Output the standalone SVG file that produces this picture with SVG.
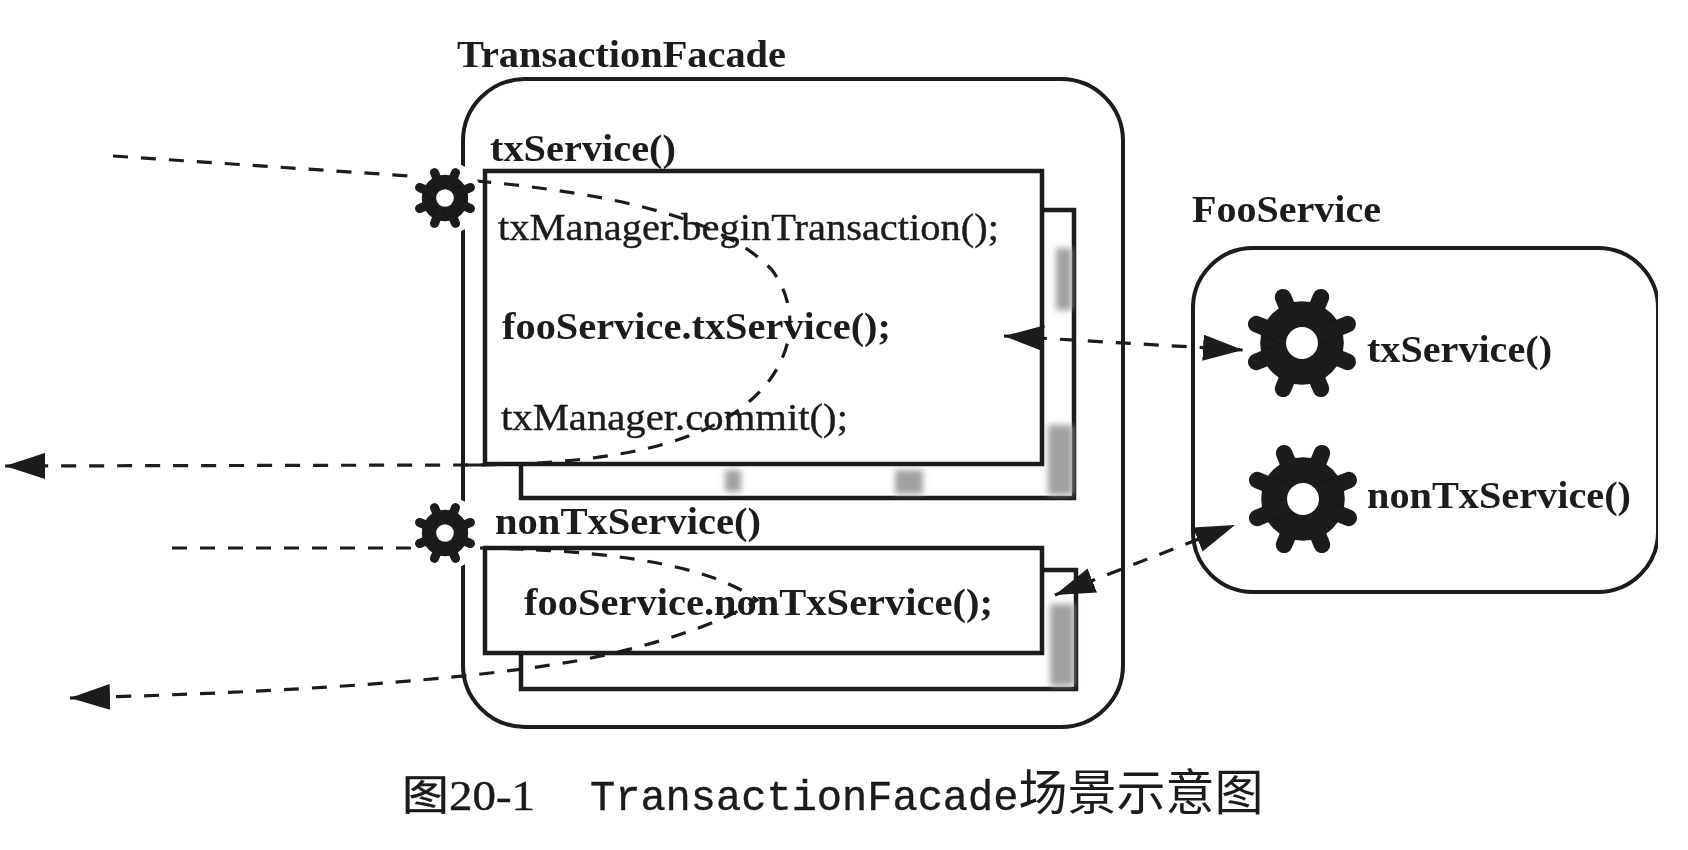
<svg xmlns="http://www.w3.org/2000/svg" xmlns:xlink="http://www.w3.org/1999/xlink" width="1688" height="850" viewBox="0 0 1688 850">
<style>
.box{fill:#fff;stroke:#1a1a1a;stroke-width:4.5}
.round{fill:none;stroke:#1a1a1a;stroke-width:4}
.flow{fill:none;stroke:#1a1a1a;stroke-width:3.2;stroke-dasharray:15 13}
.patch{fill:#a0a0a0;filter:url(#soft)}
text{font-family:"Liberation Serif","Noto Sans CJK SC",serif;fill:#1a1a1a}
.b{font-weight:bold;font-size:37px}
.r{font-size:37px;stroke:#1a1a1a;stroke-width:.4}
.cap{font-size:42px;stroke:#1a1a1a;stroke-width:.4}
.mono{font-family:"Liberation Mono",monospace;font-size:42px;stroke:#1a1a1a;stroke-width:.4}
.cjk{font-family:"Noto Sans CJK SC",sans-serif;font-size:49px}
.teeth{stroke:#1a1a1a;stroke-width:15;stroke-linecap:round}
</style>
<defs>
<filter id="soft" x="-30%" y="-30%" width="160%" height="160%"><feGaussianBlur stdDeviation="3"/></filter>
<filter id="scan" x="0" y="0" width="100%" height="100%"><feGaussianBlur stdDeviation="0.7"/></filter>
<marker id="head" viewBox="0 0 40 26" refX="40" refY="13" markerWidth="40" markerHeight="26" markerUnits="userSpaceOnUse" orient="auto-start-reverse"><path d="M0 0L40 13L0 26Z" fill="#1a1a1a"/></marker>
<g id="gear">
<circle r="38" fill="#1a1a1a"/>
<g class="teeth">
<line x1="0" y1="0" x2="17.2" y2="-41.6"/><line x1="0" y1="0" x2="41.6" y2="-17.2"/><line x1="0" y1="0" x2="41.6" y2="17.2"/><line x1="0" y1="0" x2="17.2" y2="41.6"/>
<line x1="0" y1="0" x2="-17.2" y2="41.6"/><line x1="0" y1="0" x2="-41.6" y2="17.2"/><line x1="0" y1="0" x2="-41.6" y2="-17.2"/><line x1="0" y1="0" x2="-17.2" y2="-41.6"/>
</g>
<circle r="14.5" fill="#fff"/>
</g>
</defs>
<rect width="1688" height="850" fill="#fff"/>
<g filter="url(#scan)">
<g id="transaction-facade">
<rect class="round" x="463" y="79" width="660" height="648" rx="62"/>
<text class="b" x="457" y="67" textLength="329" lengthAdjust="spacingAndGlyphs">TransactionFacade</text>
</g>
<g id="tx-service-box">
<rect class="box" x="521" y="210" width="553" height="288"/>
<path class="patch" d="M1056 248h16v62h-16zM1048 425h25v70h-25z"/>
<path class="patch" d="M725 470h16v22h-16zM895 470h28v24h-28z"/>
<rect class="box" x="485" y="171" width="557" height="293"/>
<line x1="463" y1="465" x2="485" y2="465" stroke="#1a1a1a" stroke-width="3"/>
<text class="b" x="490" y="161" textLength="186" lengthAdjust="spacingAndGlyphs">txService()</text>
<text class="r" x="498" y="240" textLength="501" lengthAdjust="spacingAndGlyphs">txManager.beginTransaction();</text>
<text class="b" x="502" y="339" textLength="389" lengthAdjust="spacingAndGlyphs">fooService.txService();</text>
<text class="r" x="501" y="430" textLength="347" lengthAdjust="spacingAndGlyphs">txManager.commit();</text>
</g>
<g id="non-tx-service-box">
<rect class="box" x="521" y="570" width="555" height="119"/>
<path class="patch" d="M1050 604h24v82h-24z"/>
<rect class="box" x="485" y="548" width="557" height="105"/>
<text class="b" x="495" y="534" textLength="266" lengthAdjust="spacingAndGlyphs">nonTxService()</text>
<text class="b" x="524" y="615" textLength="469" lengthAdjust="spacingAndGlyphs">fooService.nonTxService();</text>
</g>
<g id="foo-service">
<rect class="round" x="1193" y="248" width="465" height="344" rx="60"/>
<text class="b" x="1192" y="222" textLength="189" lengthAdjust="spacingAndGlyphs">FooService</text>
<text class="b" x="1367" y="362" textLength="185" lengthAdjust="spacingAndGlyphs">txService()</text>
<text class="b" x="1367" y="508" textLength="264" lengthAdjust="spacingAndGlyphs">nonTxService()</text>
</g>
<g id="connectors">
<path class="flow" marker-end="url(#head)" d="M113 156L440 178C600 190 720 215 772 270C805 315 790 370 745 405C690 450 590 465 463 465L5 466"/>
<path class="flow" marker-end="url(#head)" d="M172 548L480 548C610 550 710 565 757 600C720 625 640 650 570 662C460 680 300 692 70 698"/>
<path class="flow" marker-start="url(#head)" marker-end="url(#head)" d="M1004 336L1243 350"/>
<path class="flow" marker-start="url(#head)" marker-end="url(#head)" d="M1055 595L1235 525"/>
</g>
<g id="gear-tx-left">
<circle cx="445" cy="198" r="37" fill="#fff"/>
<use xlink:href="#gear" transform="translate(445 198) scale(.61)"/>
</g>
<g id="gear-nontx-left">
<circle cx="445" cy="533" r="37" fill="#fff"/>
<use xlink:href="#gear" transform="translate(445 533) scale(.61)"/>
</g>
<g id="gear-tx-right"><use xlink:href="#gear" transform="translate(1302 343) scale(1.1)"/></g>
<g id="gear-nontx-right"><use xlink:href="#gear" transform="translate(1303 499) scale(1.1)"/></g>
<g id="caption">
<text class="cap" x="402" y="810" textLength="133" lengthAdjust="spacingAndGlyphs">图20-1</text>
<text x="590" y="810"><tspan class="mono">TransactionFacade</tspan><tspan class="cjk">场景示意图</tspan></text>
</g>
</g>
</svg>
